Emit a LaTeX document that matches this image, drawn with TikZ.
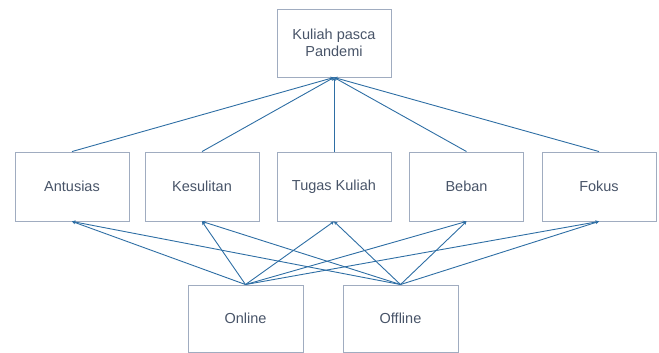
\documentclass[tikz,border=0pt]{standalone}
\usepackage{fontspec}
\setmainfont{Liberation Sans}
\usetikzlibrary{arrows.meta}
\definecolor{linec}{RGB}{46,110,164}
\definecolor{boxc}{RGB}{160,172,192}
\definecolor{textc}{RGB}{72,84,104}
\begin{document}
\begin{tikzpicture}[x=1pt,y=1pt,
  box/.style={draw=boxc,line width=0.9pt,rectangle,minimum width=114pt,minimum height=68pt,inner sep=0pt,text=textc,font=\fontsize{14.5}{17.5}\selectfont,align=center},
  conn/.style={draw=linec,line width=0.9pt,-{Stealth[length=3.5pt,width=3.5pt]}}]
\useasboundingbox (0,0) rectangle (659,353);
\node[box] (top) at (334,310) {Kuliah pasca\\Pandemi};
\node[box,minimum height=69pt] (ant) at (72,166.5) {Antusias};
\node[box,minimum height=69pt] (kes) at (202,166.5) {Kesulitan};
\node[box,minimum height=69pt] (tug) at (334,166.5) {Tugas Kuliah};
\node[box,minimum height=69pt] (beb) at (466.5,166.5) {Beban};
\node[box,minimum height=69pt] (fok) at (599,166.5) {Fokus};
\node[box,minimum width=115pt,minimum height=67pt] (onl) at (245.5,34.5) {Online};
\node[box,minimum width=115pt,minimum height=67pt] (off) at (400.5,34.5) {Offline};
\foreach \n in {ant,kes,tug,beb,fok}{
  \draw[conn] (\n.north) -- (top.south);
  \draw[conn] (onl.north) -- (\n.south);
  \draw[conn] (off.north) -- (\n.south);
}
\end{tikzpicture}
\end{document}
